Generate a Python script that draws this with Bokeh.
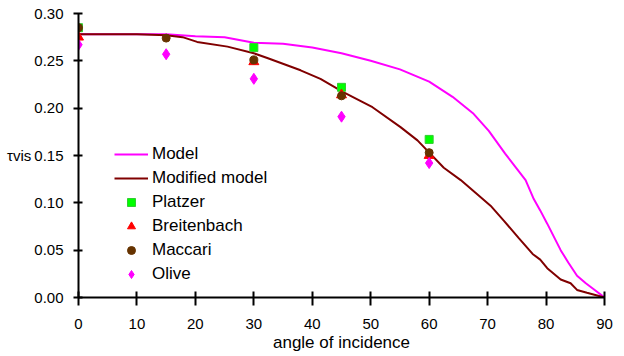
from bokeh.plotting import figure
from bokeh.models import Legend, LegendItem, NumeralTickFormatter, FixedTicker, Range1d
from bokeh.embed import file_html
from bokeh.resources import INLINE

# Model curve
model_x = [0, 10, 15, 20, 25, 30, 35, 40, 45, 50, 55, 60, 64, 67.6, 70.2, 73, 76.5, 77.9, 79.0, 80.2, 82.5, 83.8, 85.3, 86.8, 88.1, 90]
model_y = [0.278, 0.278, 0.278, 0.276, 0.275, 0.269, 0.268, 0.264, 0.258, 0.250, 0.241, 0.228, 0.212, 0.194, 0.176, 0.152, 0.124, 0.104, 0.092, 0.078, 0.050, 0.037, 0.023, 0.015, 0.009, 0.0]

# Modified model curve
mod_x = [0, 10, 15, 17.8, 20.3, 25.5, 30, 32.3, 38, 41.4, 45.3, 50.3, 55.1, 58, 62.5, 65.4, 70.5, 72.8, 75.3, 77.7, 79, 80.2, 82.5, 84.2, 85.3, 87, 90]
mod_y = [0.278, 0.278, 0.277, 0.275, 0.270, 0.265, 0.258, 0.253, 0.240, 0.231, 0.217, 0.201, 0.180, 0.166, 0.137, 0.124, 0.097, 0.081, 0.063, 0.046, 0.040, 0.031, 0.019, 0.015, 0.008, 0.005, 0.0]

platzer_x = [0, 30, 45, 60]
platzer_y = [0.285, 0.264, 0.222, 0.167]

breit_x = [0, 30, 45, 60]
breit_y = [0.275, 0.249, 0.214, 0.150]

maccari_x = [0, 15, 30, 45, 60]
maccari_y = [0.285, 0.274, 0.251, 0.213, 0.153]

olive_x = [0, 15, 30, 45, 60]
olive_y = [0.267, 0.257, 0.231, 0.191, 0.142]

x_ticks = [0, 10, 20, 30, 40, 50, 60, 70, 80, 90]
y_ticks = [0.0, 0.05, 0.10, 0.15, 0.20, 0.25, 0.30]

FONT = "Liberation Sans"

p = figure(width=620, height=354, output_backend="svg", toolbar_location=None,
           x_range=Range1d(0, 90), y_range=Range1d(0, 0.30),
           min_border_left=78, min_border_right=16, min_border_top=13, min_border_bottom=57)
p.outline_line_color = None
p.xgrid.visible = False
p.ygrid.visible = False

r_model = p.line(model_x, model_y, line_color="#FF00FF", line_width=2)
r_mod = p.line(mod_x, mod_y, line_color="#800000", line_width=2)
r_pl = p.scatter(platzer_x, platzer_y, marker="square", size=8, fill_color="#00FF00", line_color="#33CC33")
r_br = p.scatter(breit_x, breit_y, marker="triangle", size=10, fill_color="#FF0000", line_color="#FF0000")
r_ma = p.scatter(maccari_x, maccari_y, marker="circle", size=8, fill_color="#663300", line_color="#663300")
r_ol = p.scatter(olive_x, olive_y, marker="diamond", size=11, fill_color="#FF00FF", line_color="#FF00FF")

for ax in (p.xaxis[0], p.yaxis[0]):
    ax.axis_line_width = 2
    ax.axis_line_color = "black"
    ax.major_tick_line_width = 2
    ax.major_tick_line_color = "black"
    ax.minor_tick_line_color = None
    ax.major_label_text_font = FONT
    ax.major_label_text_font_size = "15px"
    ax.major_label_text_color = "black"
    ax.axis_label_text_font = FONT
    ax.axis_label_text_font_style = "normal"
    ax.axis_label_text_color = "black"

p.xaxis.ticker = FixedTicker(ticks=x_ticks)
p.yaxis.ticker = FixedTicker(ticks=y_ticks)
p.yaxis.formatter = NumeralTickFormatter(format="0.00")
p.xaxis.major_tick_in = 6
p.xaxis.major_tick_out = 8
p.yaxis.major_tick_in = 4
p.yaxis.major_tick_out = 5
p.xaxis.major_label_standoff = 13
p.yaxis.major_label_standoff = 10
p.xaxis.axis_label = "angle of incidence"
p.xaxis.axis_label_text_font_size = "17px"
p.xaxis.axis_label_standoff = 1
p.yaxis.axis_label = "τvis"
p.yaxis.axis_label_orientation = "horizontal"
p.yaxis.axis_label_text_font_size = "15px"
p.yaxis.axis_label_standoff = 0

legend = Legend(items=[
    LegendItem(label="Model", renderers=[r_model]),
    LegendItem(label="Modified model", renderers=[r_mod]),
    LegendItem(label="Platzer", renderers=[r_pl]),
    LegendItem(label="Breitenbach", renderers=[r_br]),
    LegendItem(label="Maccari", renderers=[r_ma]),
    LegendItem(label="Olive", renderers=[r_ol]),
], location=(36, 13))
legend.border_line_color = None
legend.background_fill_alpha = 0
legend.label_text_font = FONT
legend.label_text_font_size = "17px"
legend.label_text_color = "black"
legend.glyph_width = 34
legend.glyph_height = 20
legend.label_height = 20
legend.spacing = 4
legend.label_standoff = 4
legend.padding = 4
legend.margin = 0
p.add_layout(legend, "center")

open("out.html", "w").write(file_html(p, INLINE))
